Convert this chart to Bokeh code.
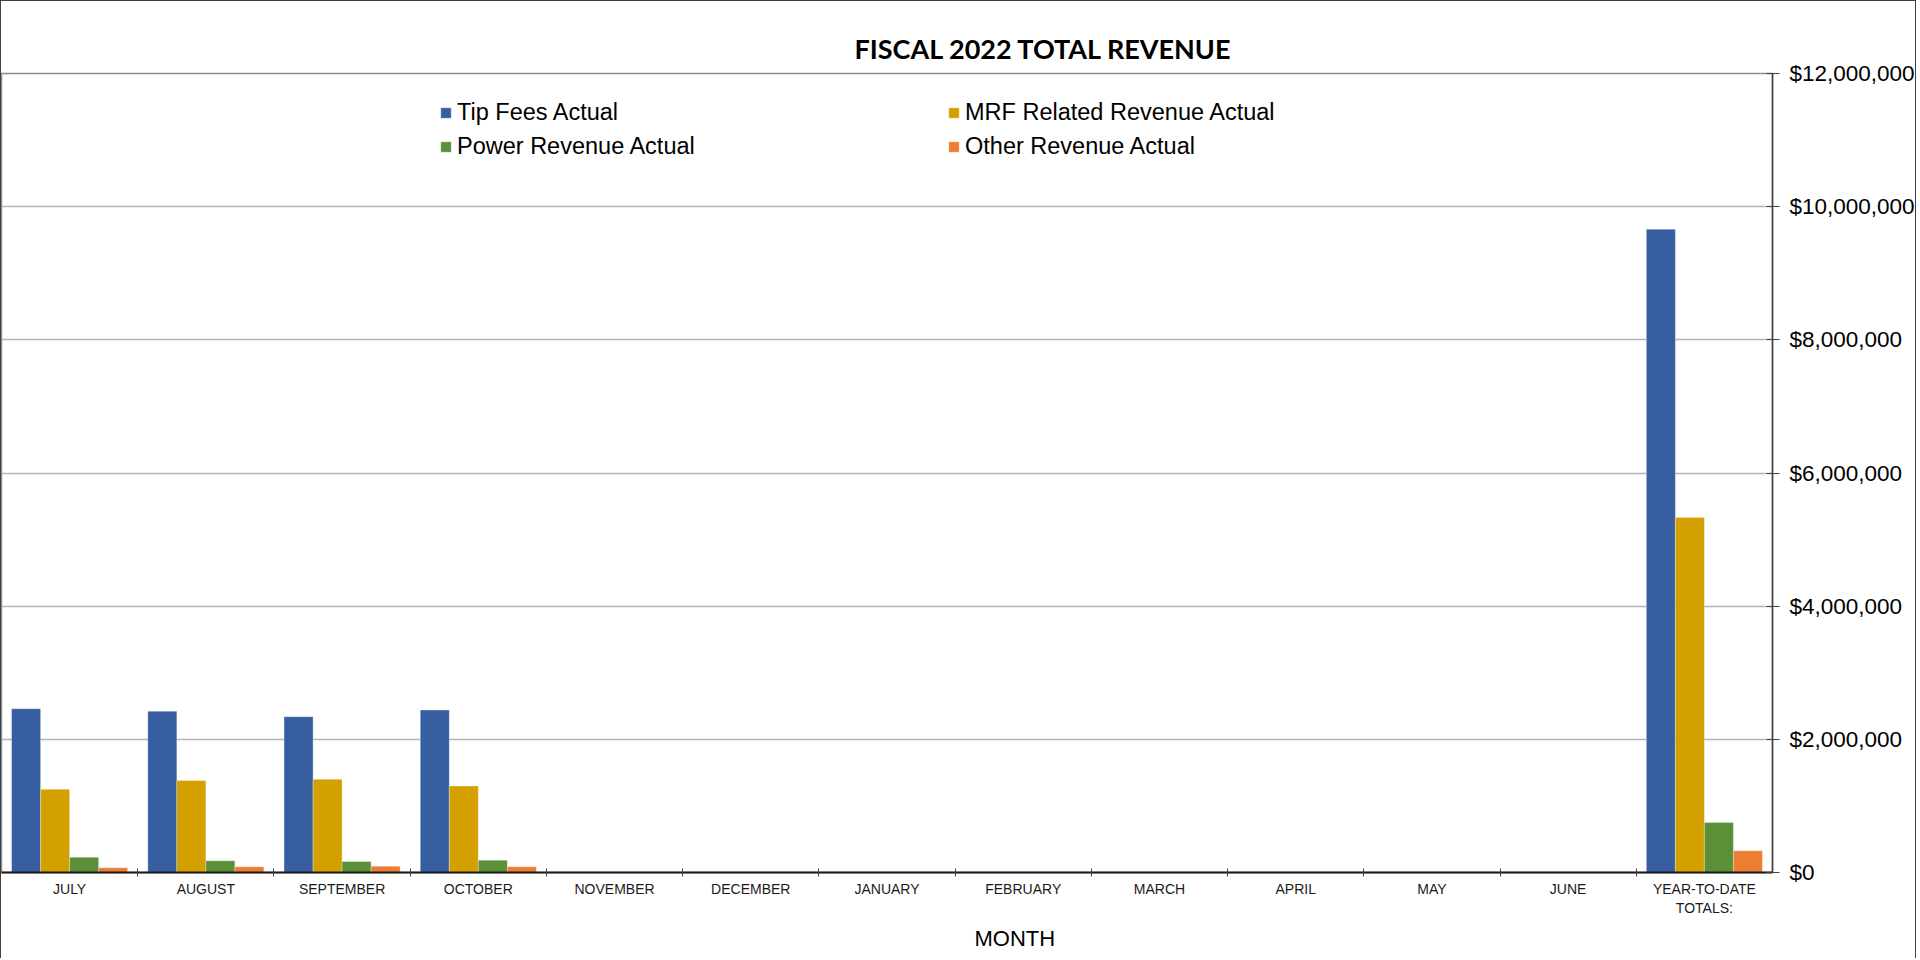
import numpy as np
from bokeh.plotting import figure
from bokeh.models import (ColumnDataSource, Range1d, FixedTicker, NumeralTickFormatter,
                          Legend, LegendItem, Title)
from bokeh.transform import dodge
from bokeh.embed import file_html
from bokeh.resources import INLINE

# ---------------- data ----------------
categories = ["JULY", "AUGUST", "SEPTEMBER", "OCTOBER", "NOVEMBER", "DECEMBER",
              "JANUARY", "FEBRUARY", "MARCH", "APRIL", "MAY", "JUNE",
              "YEAR-TO-DATE\nTOTALS:"]
tip_fees = [2460000, 2420000, 2340000, 2440000, None, None, None, None, None, None, None, None, 9660000]
mrf_revenue = [1250000, 1380000, 1400000, 1300000, None, None, None, None, None, None, None, None, 5330000]
power_revenue = [230000, 175000, 165000, 185000, None, None, None, None, None, None, None, None, 750000]
other_revenue = [70000, 85000, 95000, 85000, None, None, None, None, None, None, None, None, 325000]

series_keys = ["tip", "mrf", "power", "other"]
series_names = ["Tip Fees Actual", "MRF Related Revenue Actual",
                "Power Revenue Actual", "Other Revenue Actual"]
series_colors = ["#365EA0", "#D4A000", "#5B8F38", "#ED7D31"]
y_ticks = [0, 2000000, 4000000, 6000000, 8000000, 10000000, 12000000]

# ---------------- source ----------------
n = len(categories)
centers = [i + 0.5 for i in range(n)]
boundaries = [float(i) for i in range(1, n)]
src = ColumnDataSource(dict(
    x=centers,
    tip=np.array(tip_fees, dtype=float),
    mrf=np.array(mrf_revenue, dtype=float),
    power=np.array(power_revenue, dtype=float),
    other=np.array(other_revenue, dtype=float),
))

p = figure(width=1916, height=958,
           x_range=Range1d(0, n), y_range=Range1d(y_ticks[0], y_ticks[-1]),
           y_axis_location="right",
           output_backend="svg", toolbar_location=None,
           min_border_left=0, min_border_right=145,
           min_border_top=72, min_border_bottom=87)
p.outline_line_color = "#8C8C8C"
p.outline_line_width = 1.5
p.background_fill_color = "white"
p.border_fill_color = "white"
p.styles = {"border-top": "1px solid #404040", "border-left": "1px solid #404040",
            "border-right": "1px solid #404040"}

# bars
bar_w = 0.213
offsets = [-1.5 * bar_w, -0.5 * bar_w, 0.5 * bar_w, 1.5 * bar_w]
renderers = []
for key, col, off in zip(series_keys, series_colors, offsets):
    r = p.vbar(x=dodge("x", off, range=p.x_range), top=key, bottom=0, width=bar_w,
               source=src, fill_color=col, line_color="white", line_alpha=0.3, line_width=1)
    renderers.append(r)

# title
p.title.text = "FISCAL 2022 TOTAL REVENUE"
p.title.text_font = "Lato"
p.title.text_font_style = "bold"
p.title.text_font_size = "27px"
p.title.text_color = "#000000"
p.title.align = "left"
p.title.offset = 853
p.title.standoff = 18

# x axis
xa = p.xaxis[0]
xa.ticker = FixedTicker(ticks=centers, minor_ticks=boundaries)
xa.major_label_overrides = {c: lab for c, lab in zip(centers, categories)}
xa.major_tick_in = 0
xa.major_tick_out = 0
xa.minor_tick_in = 4
xa.minor_tick_out = 4
xa.minor_tick_line_color = "#404040"
xa.axis_line_color = "#1A1A1A"
xa.axis_line_width = 2
xa.major_label_text_font = "Liberation Sans"
xa.major_label_text_font_size = "14px"
xa.major_label_text_color = "#1A1A1A"
xa.major_label_standoff = 4

p.add_layout(Title(text="MONTH", align="left", offset=973, text_font="Liberation Sans",
                   text_font_size="22px", text_font_style="normal", text_color="#000000"),
             "below")

# y axis
ya = p.yaxis[0]
ya.ticker = FixedTicker(ticks=y_ticks)
ya.formatter = NumeralTickFormatter(format="$0,0")
ya.major_tick_in = 6
ya.major_tick_out = 7
ya.minor_tick_line_color = None
ya.axis_line_color = "#404040"
ya.axis_line_width = 1.5
ya.major_tick_line_color = "#404040"
ya.major_label_text_font = "Liberation Sans"
ya.major_label_text_font_size = "22.5px"
ya.major_label_text_color = "#000000"
ya.major_label_standoff = 10

p.xgrid.visible = False
p.ygrid.grid_line_color = "#B4B4B4"
p.ygrid.grid_line_width = 1.5

# legend (column-major: col1 = Tip, Power ; col2 = MRF, Other)
order = [0, 2, 1, 3]
legend = Legend(items=[LegendItem(label=series_names[i], renderers=[renderers[i]]) for i in order],
                location=(438, 709), orientation="vertical", ncols=2,
                border_line_color=None, background_fill_alpha=0,
                padding=0, margin=0, spacing=0,
                glyph_width=13, glyph_height=13, label_standoff=5,
                label_width=490, label_height=34,
                label_text_font="Liberation Sans", label_text_font_size="23.5px",
                label_text_color="#000000")
p.add_layout(legend)

open("out.html", "w").write(file_html(p, INLINE))
